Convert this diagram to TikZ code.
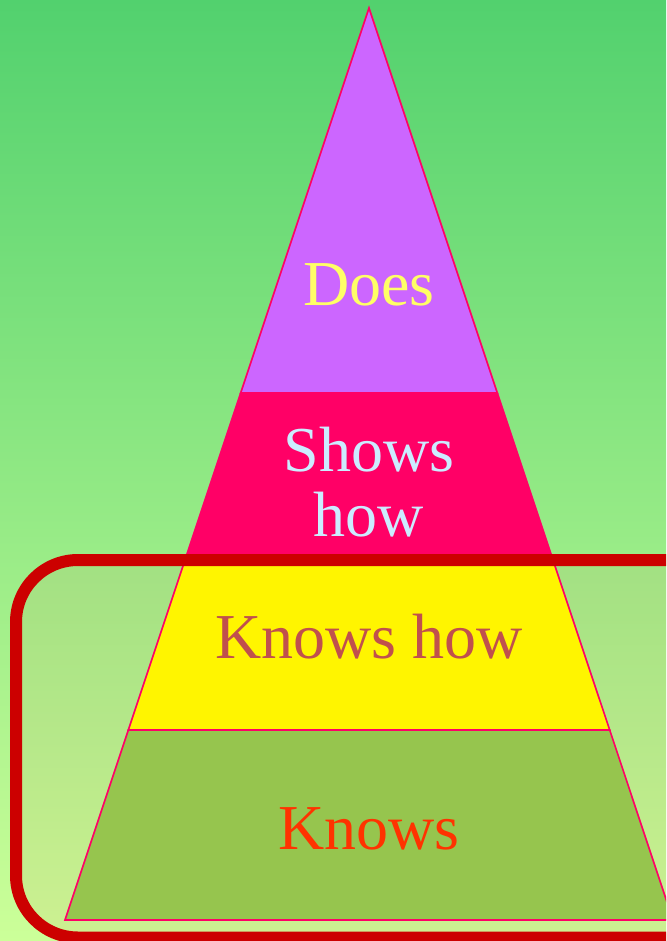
\documentclass[tikz,border=0pt]{standalone}
\usepackage{fontspec}
\setmainfont{Liberation Serif}
\usepackage{tikz}
\usetikzlibrary{positioning}
\definecolor{bgtop}{HTML}{52D16E}
\definecolor{bgbottom}{HTML}{CCFF99}
\definecolor{pyrline}{HTML}{FF0066}
\definecolor{doesfill}{HTML}{CC66FF}
\definecolor{doestext}{HTML}{FFFF66}
\definecolor{showsfill}{HTML}{FF0066}
\definecolor{showstext}{HTML}{CCECFF}
\definecolor{knowshowfill}{HTML}{FFF500}
\definecolor{knowshowtext}{HTML}{C0504D}
\definecolor{knowsfill}{HTML}{96C54E}
\definecolor{knowstext}{HTML}{FF3300}
\definecolor{frame}{HTML}{CC0000}
\definecolor{frametint}{HTML}{DA9160}

\begin{document}
\begin{tikzpicture}[x=1pt, y=-1pt,
    level/.style={draw=pyrline, line width=1.6pt, line join=miter},
    label/.style={font=\fontsize{64}{65}\selectfont, align=center, inner sep=0pt}]
\useasboundingbox (0,0) rectangle (666,941);
\clip (0,0) rectangle (666,941);
% Background
\shade[top color=bgtop, bottom color=bgbottom] (0,0) rectangle (666,941);
% Frame tint
\fill[frametint, fill opacity=0.12, rounded corners=62pt] (16,560) rectangle (730,937.5);

% Pyramid levels
\filldraw[level, fill=knowsfill] (128.33,730) -- (609.67,730) -- (673,920) -- (65,920) -- cycle;
\filldraw[level, fill=knowshowfill] (186.67,555) -- (551.33,555) -- (609.67,730) -- (128.33,730) -- cycle;
\filldraw[level, fill=showsfill] (240.67,393) -- (497.33,393) -- (551.33,555) -- (186.67,555) -- cycle;
\filldraw[level, fill=doesfill] (369,8) -- (497.33,393) -- (240.67,393) -- cycle;

% Frame
\draw[frame, line width=12pt, rounded corners=62pt] (16,560) rectangle (730,937.5);

% Labels
\node[label, anchor=base, text=doestext] (does) at (369,305) {Does};
\node[label, text=showstext] (shows) at (369,482) {Shows\\how};
\node[label, anchor=base, text=knowshowtext] (knowshow) at (369,658) {Knows how};
\node[label, anchor=base, text=knowstext] (knows) at (369,849) {Knows};
\end{tikzpicture}
\end{document}
